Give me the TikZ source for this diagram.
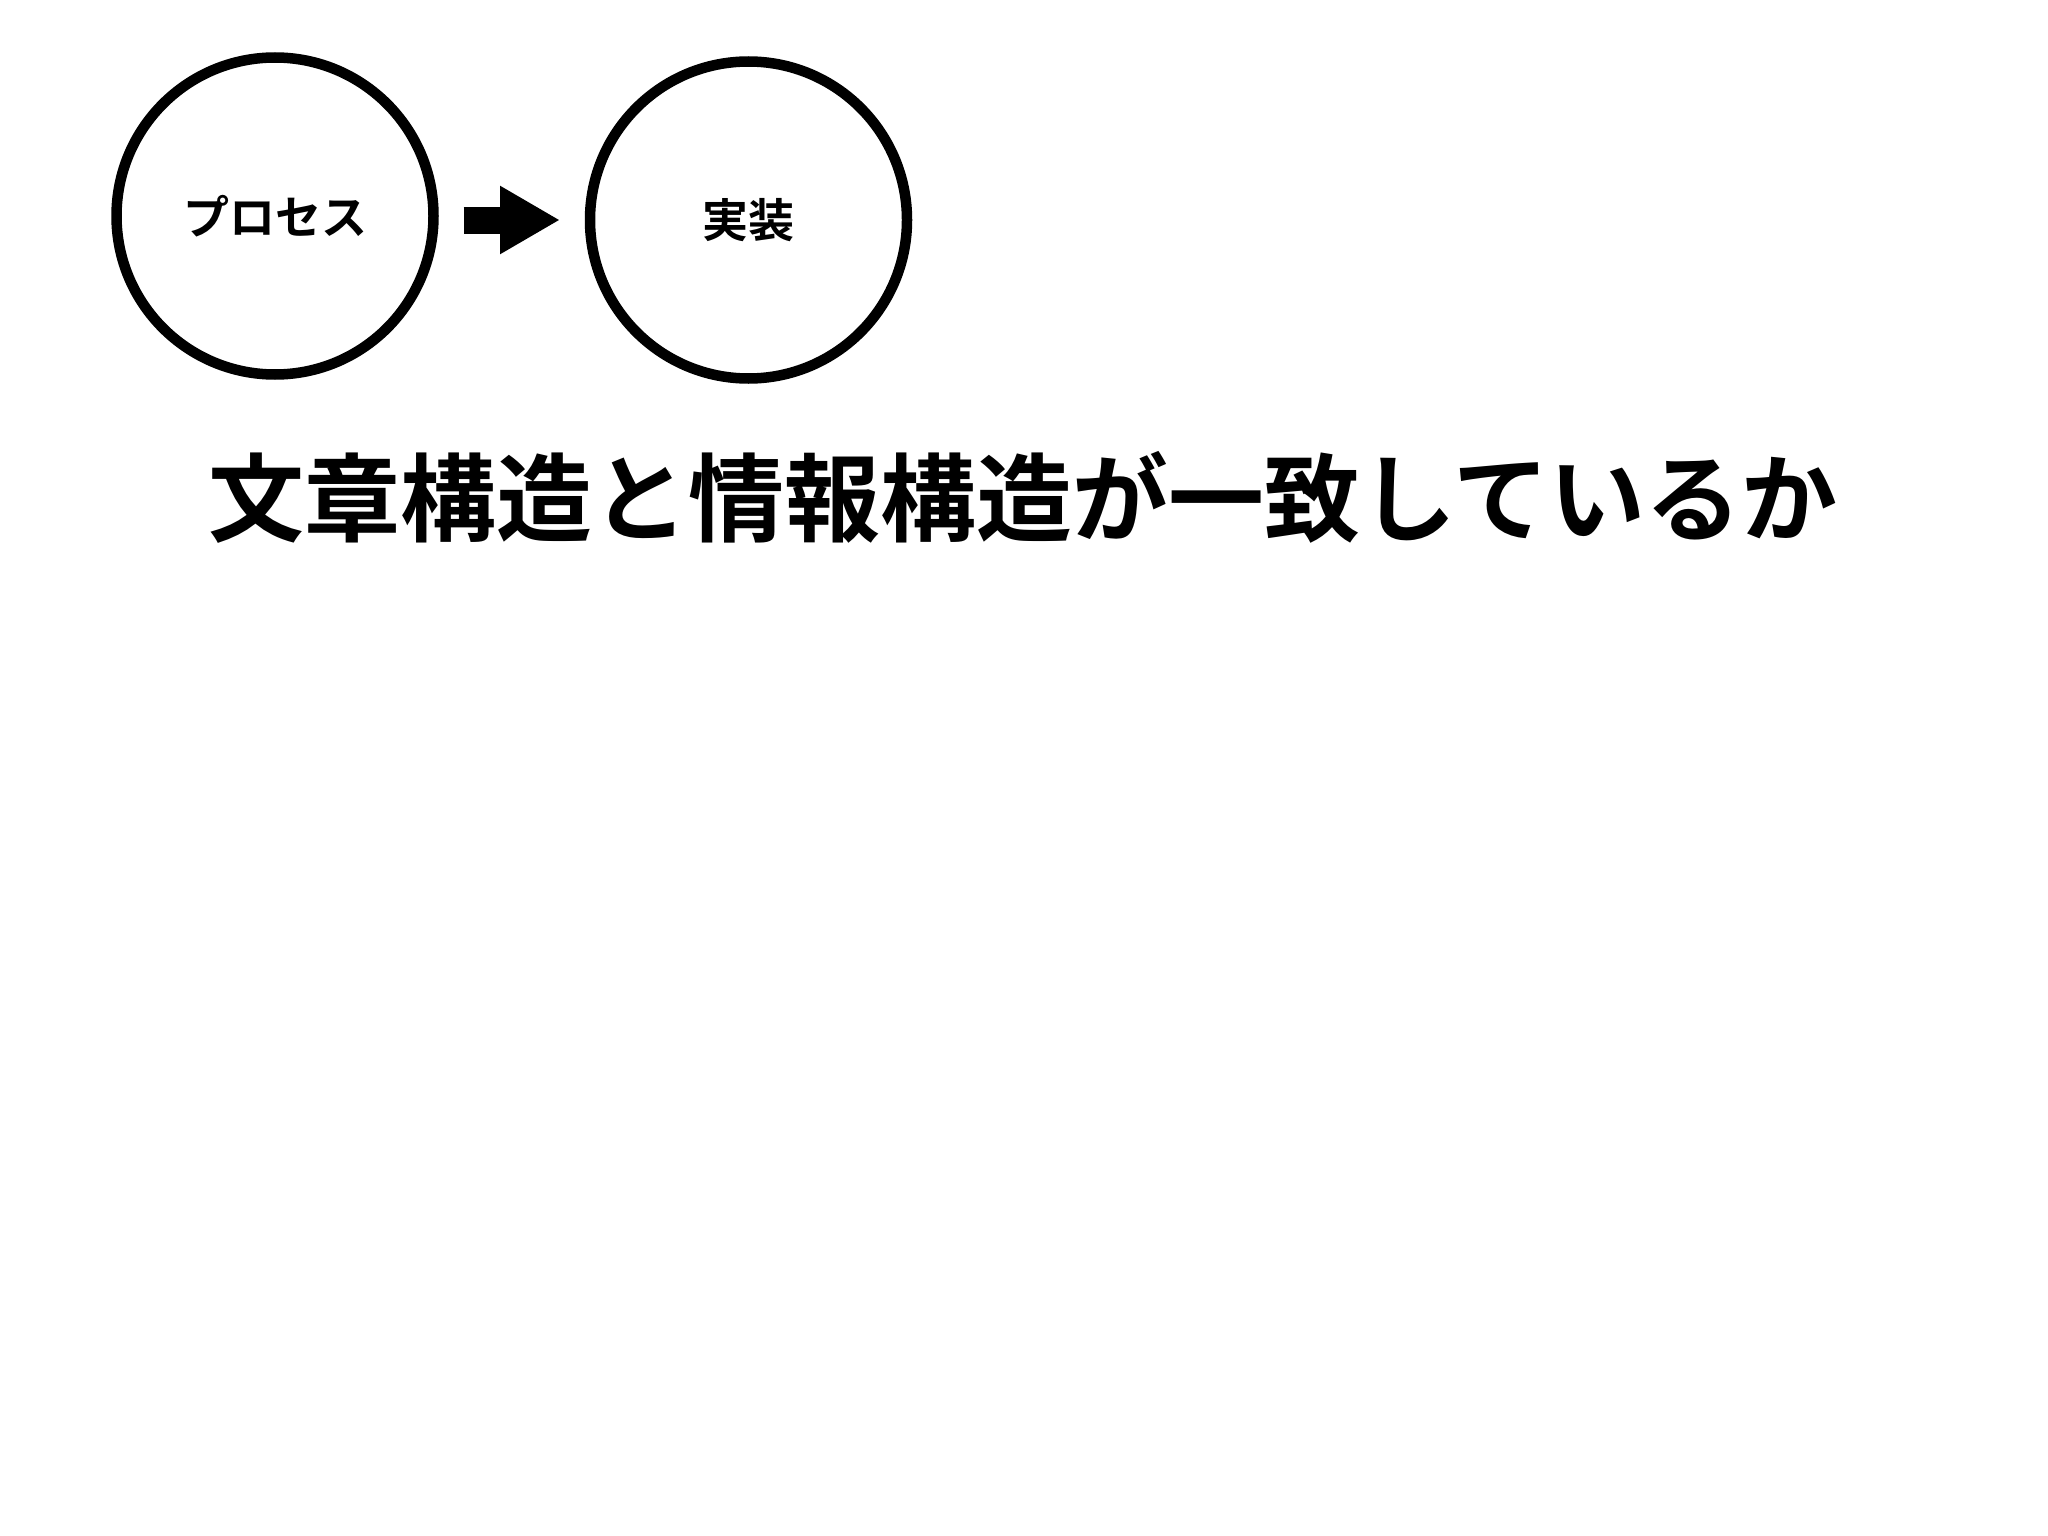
\documentclass[tikz,border=0pt]{standalone}
\usepackage{fontspec}
\newfontfamily\cjk{Noto Sans CJK JP}[BoldFont={Noto Sans CJK JP Bold}]
\usetikzlibrary{arrows.meta}
\tikzset{
  bubble/.style={circle, draw=black, line width=10.5pt, minimum size=317pt, inner sep=0pt, outer sep=0pt, font=\cjk\bfseries\fontsize{46}{54}\selectfont},
  flow/.style={line width=27pt, -{Triangle[length=60pt,width=64pt]}, shorten <=30pt, shorten >=30pt},
  title/.style={font=\cjk\bfseries\fontsize{96}{110}\selectfont, inner sep=0pt}
}
\begin{document}
\begin{tikzpicture}[x=1pt,y=-1pt]
\fill[white] (0,0) rectangle (2048,1536);
\useasboundingbox (0,0) rectangle (2048,1536);
\node[bubble] (c1) at (275,216) {プロセス};
\node[bubble] (c2) at (748.5,220) {実装};
\draw[flow] (c1.east |- c2) -- (c2.west);
\node[title] (t) at (1023,497) {文章構造と情報構造が一致しているか};
\end{tikzpicture}
\end{document}
